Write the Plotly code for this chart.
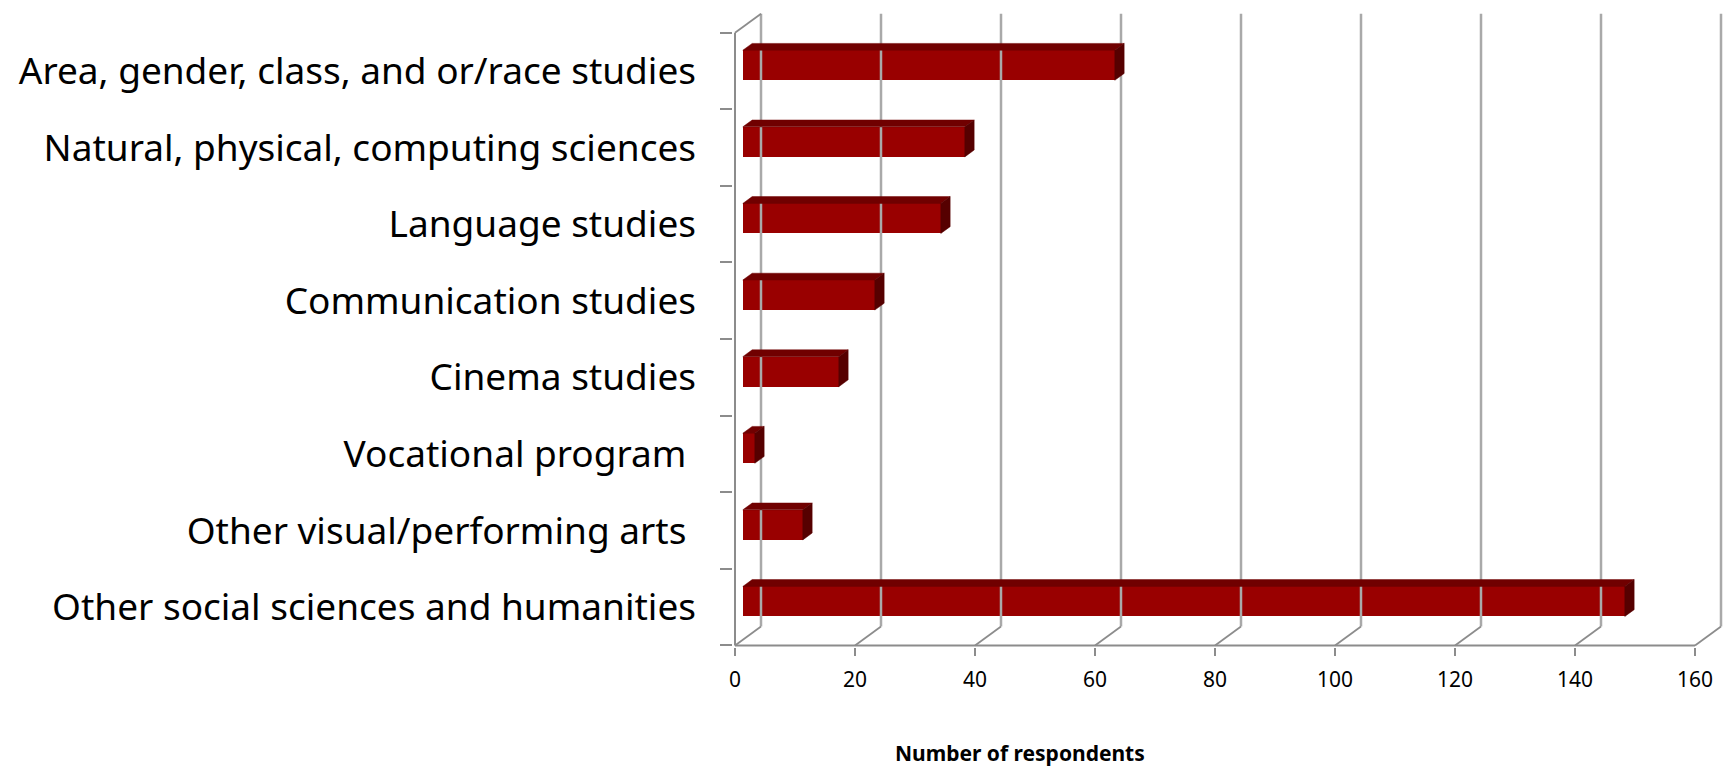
import plotly.graph_objects as go

# ---- data (top to bottom as shown) ----
categories = [
    "Area, gender, class, and or/race studies",
    "Natural, physical, computing sciences",
    "Language studies",
    "Communication studies",
    "Cinema studies",
    "Vocational program\u00a0",
    "Other visual/performing arts\u00a0",
    "Other social sciences and humanities",
]
values = [62, 37, 33, 22, 16, 2, 10, 147]
x_ticks = [0, 20, 40, 60, 80, 100, 120, 140, 160]
x_title = "Number of respondents"

# ---- 3D look parameters (in axis units) ----
DX = 26 / 6.0      # depth shift along x
DY = 19 / 76.6     # depth shift along y
F1, F2 = 0.30, 0.66  # bar front / back depth fractions
H = 0.196          # half bar height

n = len(categories)
centers = [n - 1 - i + 0.5 for i in range(n)]

FRONT = "#990000"
TOP = "#700000"
SIDE = "#560000"
GRID = "#a9a9a9"
AXIS = "#8c8c8c"

fig = go.Figure()

# back wall gridlines
gx, gy = [], []
for t in x_ticks:
    gx += [t + DX, t + DX, None]
    gy += [DY, n + DY, None]
fig.add_trace(go.Scatter(x=gx, y=gy, mode="lines", line=dict(color=GRID, width=2.5),
                         hoverinfo="skip", showlegend=False))

# floor diagonals + left wall top diagonal
fx, fy = [], []
for t in x_ticks:
    fx += [t, t + DX, None]
    fy += [0, DY, None]
fx += [0, DX, None]
fy += [n, n + DY, None]
fig.add_trace(go.Scatter(x=fx, y=fy, mode="lines", line=dict(color=AXIS, width=1.8),
                         hoverinfo="skip", showlegend=False))

# front floor line and front left wall line
fig.add_trace(go.Scatter(x=[0, x_ticks[-1], None, 0, 0], y=[0, 0, None, 0, n], mode="lines",
                         line=dict(color=AXIS, width=2), hoverinfo="skip", showlegend=False))

# bar top and end faces
tx, ty = [], []
sx, sy = [], []
for v, c in zip(values, centers):
    x0f, x1f = F1 * DX, v + F1 * DX
    d = (F2 - F1)
    ytf = c + H + F1 * DY
    ybf = c - H + F1 * DY
    tx += [x0f, x1f, x1f + d * DX, x0f + d * DX, x0f, None]
    ty += [ytf, ytf, ytf + d * DY, ytf + d * DY, ytf, None]
    sx += [x1f, x1f, x1f + d * DX, x1f + d * DX, x1f, None]
    sy += [ybf, ytf, ytf + d * DY, ybf + d * DY, ybf, None]
fig.add_trace(go.Scatter(x=tx, y=ty, mode="lines", fill="toself", fillcolor=TOP,
                         line=dict(color=TOP, width=0.5), hoverinfo="skip", showlegend=False))
fig.add_trace(go.Scatter(x=sx, y=sy, mode="lines", fill="toself", fillcolor=SIDE,
                         line=dict(color=SIDE, width=0.5), hoverinfo="skip", showlegend=False))

# bar front faces
fig.add_trace(go.Bar(
    x=values, y=[c + F1 * DY for c in centers], base=F1 * DX, orientation="h",
    width=2 * H, marker=dict(color=FRONT, line=dict(width=0)),
    hoverinfo="skip", showlegend=False,
))

# category labels axis
fig.add_trace(go.Scatter(x=[None], y=[None], yaxis="y2", showlegend=False, hoverinfo="skip"))

L, R, T, B = 733, 6, 8, 122
W, HH = 1731, 769
pw = W - L - R
ph = HH - T - B
xr0 = -2 / 6.0
yr0 = -0.02

LABEL_FONT = "Noto Sans, Arial, sans-serif"

fig.update_layout(
    width=W, height=HH,
    margin=dict(l=L, r=R, t=T, b=B, pad=0),
    plot_bgcolor="white", paper_bgcolor="white",
    bargap=0,
    font=dict(family=LABEL_FONT, color="black"),
    xaxis=dict(
        range=[xr0, xr0 + pw / 6.0], tickvals=x_ticks, ticktext=[str(t) for t in x_ticks],
        ticks="outside", ticklen=8, tickwidth=2, tickcolor=AXIS,
        showgrid=False, zeroline=False, showline=False,
        tickfont=dict(size=21, family=LABEL_FONT),
        ticklabelstandoff=6,
    ),
    yaxis=dict(
        range=[yr0, yr0 + ph / 76.6], tickvals=list(range(n + 1)),
        ticks="outside", ticklen=12, tickwidth=2, tickcolor=AXIS,
        showticklabels=False, showgrid=False, zeroline=False, showline=False,
    ),
    yaxis2=dict(
        overlaying="y", side="left", range=[yr0, yr0 + ph / 76.6],
        tickvals=centers, ticktext=categories, ticks="",
        tickfont=dict(size=37, family=LABEL_FONT),
        ticklabelstandoff=36,
        showgrid=False, zeroline=False, showline=False,
    ),
    annotations=[dict(
        text="<b>" + x_title + "</b>", xref="paper", yref="paper",
        x=(1020 - L) / pw, y=-(753 - (HH - B)) / ph,
        xanchor="center", yanchor="middle", showarrow=False,
        font=dict(size=21, family=LABEL_FONT, color="black"),
    )],
)

fig.write_html("out.html")
